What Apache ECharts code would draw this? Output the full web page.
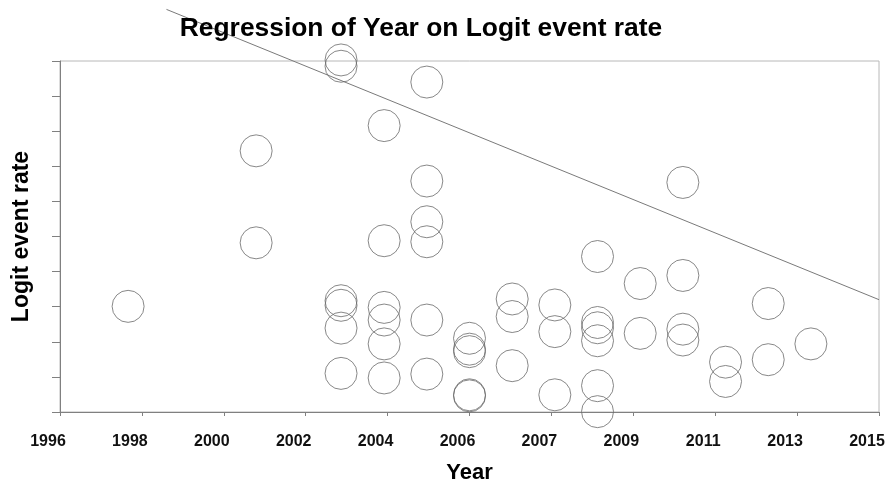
<!DOCTYPE html>
<html>
<head>
<meta charset="utf-8">
<script src="https://cdn.jsdelivr.net/npm/echarts@6/dist/echarts.min.js"></script>
<style>
html,body{margin:0;padding:0;background:#fff;}
#chart{width:888px;height:484px;}
</style>
</head>
<body>
<div id="chart"></div>
<script>
// Study year and logit event rate for each study
const studyYears = [
  1997.58, 2000.55, 2000.55,
  2002.52, 2002.52, 2002.52, 2002.52, 2002.52, 2002.52,
  2003.52, 2003.52, 2003.52, 2003.52, 2003.52, 2003.52,
  2004.51, 2004.51, 2004.51, 2004.51, 2004.51, 2004.51,
  2005.50, 2005.50, 2005.50, 2005.50, 2005.50,
  2006.49, 2006.49, 2006.49,
  2007.48, 2007.48, 2007.48,
  2008.47, 2008.47, 2008.47, 2008.47, 2008.47, 2008.47,
  2009.46, 2009.46,
  2010.45, 2010.45, 2010.45, 2010.45,
  2011.44, 2011.44,
  2012.43, 2012.43,
  2013.42
];
const logitRates = [
  3.01, 7.44, 4.82,
  10.03, 9.85, 3.17, 3.04, 2.39, 1.10,
  8.16, 4.88, 2.98, 2.62, 1.94, 0.97,
  9.40, 6.58, 5.42, 4.85, 2.62, 1.08,
  2.10, 1.79, 1.72, 0.46, 0.49,
  3.22, 2.72, 1.32,
  3.05, 2.29, 0.49,
  4.43, 2.55, 2.40, 2.03, 0.75, 0.01,
  3.66, 2.24,
  6.54, 3.89, 2.36, 2.05,
  1.42, 0.87,
  3.09, 1.49,
  1.94
];
// Regression line end points
const regYears = [1998.47, 2015];
const regRates = [11.47, 3.20];
// Axis tick labels
const xTickLabels = ['1996','1998','2000','2002','2004','2006','2007','2009','2011','2013','2015'];
const xStart = 1996;
const xStep = 1.9;

const scatterData = studyYears.map((y, i) => [y - xStart, logitRates[i]]);
const lineData = regYears.map((y, i) => [y - xStart, regRates[i]]);

const chart = echarts.init(document.getElementById('chart'));
const font = 'Liberation Sans, Arial, sans-serif';
chart.setOption({
  animation: false,
  backgroundColor: '#ffffff',
  title: {
    text: 'Regression of Year on Logit event rate',
    left: 416, top: 11, textAlign: 'center',
    textStyle: {fontFamily: font, fontWeight: 'bold', fontSize: 26.4, color: '#000'}
  },
  grid: {
    left: 60, right: 9, top: 61, bottom: 72,
    containLabel: false, outerBoundsMode: 'none',
    show: true, borderColor: '#b8b8b8', borderWidth: 1, backgroundColor: 'transparent'
  },
  xAxis: {
    type: 'value', min: 0, max: 19, interval: xStep,
    name: 'Year', nameLocation: 'middle', nameGap: 50,
    nameTextStyle: {fontFamily: font, fontWeight: 'bold', fontSize: 22, color: '#000'},
    axisLine: {show: true, onZero: false, lineStyle: {color: '#808080', width: 1}},
    axisTick: {show: true, inside: false, length: 4, lineStyle: {color: '#808080'}},
    axisLabel: {
      margin: 22, fontFamily: font, fontWeight: 'bold', fontSize: 16, color: '#111',
      padding: [0, 24, 0, 0], hideOverlap: false, showMinLabel: true, showMaxLabel: true,
      formatter: v => xTickLabels[Math.round(v / xStep)] || ''
    },
    splitLine: {show: false}
  },
  yAxis: {
    type: 'value', min: 0, max: 10, interval: 1,
    name: 'Logit event rate', nameLocation: 'middle', nameGap: 27, nameRotate: 90,
    nameTextStyle: {fontFamily: font, fontWeight: 'bold', fontSize: 23, color: '#000'},
    axisLine: {show: true, onZero: false, lineStyle: {color: '#808080', width: 1}},
    axisTick: {show: true, inside: false, length: 8, lineStyle: {color: '#808080'}},
    axisLabel: {show: false},
    splitLine: {show: false}
  },
  series: [
    {
      type: 'scatter', clip: false, symbol: 'circle', symbolSize: 32,
      itemStyle: {color: 'rgba(0,0,0,0)', borderColor: '#6a6a6a', borderWidth: 1},
      data: scatterData, z: 3
    },
    {
      type: 'line', clip: false, symbol: 'none',
      lineStyle: {color: '#7a7a7a', width: 1},
      data: lineData, z: 2
    }
  ]
});
</script>
</body>
</html>
